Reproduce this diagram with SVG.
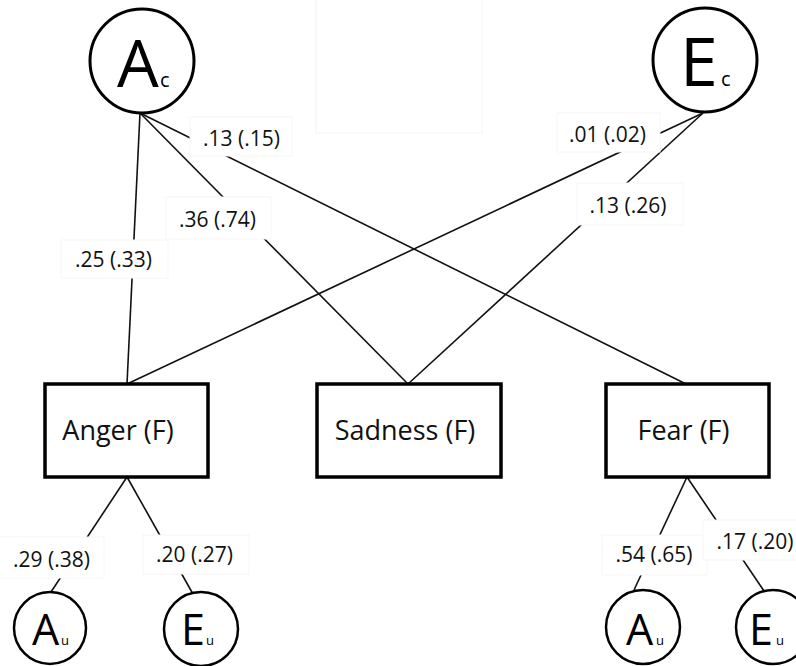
<svg xmlns="http://www.w3.org/2000/svg" width="796" height="666" viewBox="0 0 796 666">
<style>
.ln{stroke:#111;stroke-width:1.6;fill:none}
.lab rect{fill:#fff;stroke:#f6f6f6;stroke-width:1}
.lab text{font-family:"Open Sans","Liberation Sans",sans-serif;font-size:21px;fill:#111;text-anchor:middle}
.box rect{fill:#fff;stroke:#000;stroke-width:3.5}
.box text{font-family:"Open Sans","Liberation Sans",sans-serif;font-size:27px;fill:#111;text-anchor:middle}
.big circle{fill:#fff;stroke:#000;stroke-width:3}
.sm circle{fill:#fff;stroke:#000;stroke-width:2.5}
.lt{font-family:"Open Sans","Liberation Sans",sans-serif;fill:#000}
</style>
<rect x="316" y="-2" width="166" height="135" fill="#fff" stroke="#f6f6f6" stroke-width="1"/>
<g id="connectors">
<line class="ln" x1="140" y1="113" x2="127" y2="384"/>
<line class="ln" x1="140" y1="113" x2="408" y2="384"/>
<line class="ln" x1="140" y1="113" x2="686" y2="384"/>
<line class="ln" x1="703" y1="113" x2="127" y2="384"/>
<line class="ln" x1="703" y1="113" x2="408" y2="384"/>
<line class="ln" x1="127" y1="477" x2="51" y2="592"/>
<line class="ln" x1="127" y1="477" x2="193" y2="594"/>
<line class="ln" x1="687" y1="477" x2="634" y2="590"/>
<line class="ln" x1="687" y1="477" x2="764" y2="591"/>
</g>
<g id="labels">
<g class="lab"><rect x="190" y="117" width="102" height="39"/><text x="241.5" y="146">.13 (.15)</text></g>
<g class="lab"><rect x="557" y="113" width="103" height="39"/><text x="607.5" y="142">.01 (.02)</text></g>
<g class="lab"><rect x="166" y="197" width="105" height="42"/><text x="217.5" y="227">.36 (.74)</text></g>
<g class="lab"><rect x="61" y="240" width="107" height="38"/><text x="113.5" y="267">.25 (.33)</text></g>
<g class="lab"><rect x="577" y="183" width="106" height="42"/><text x="628" y="213">.13 (.26)</text></g>
<g class="lab"><rect x="-2" y="537" width="106" height="41"/><text x="51.5" y="567">.29 (.38)</text></g>
<g class="lab"><rect x="143" y="535" width="106" height="39"/><text x="194.5" y="562">.20 (.27)</text></g>
<g class="lab"><rect x="602" y="535" width="105" height="40"/><text x="654" y="562">.54 (.65)</text></g>
<g class="lab"><rect x="703" y="520" width="100" height="40"/><text x="755" y="549">.17 (.20)</text></g>
</g>
<g id="Ac" class="big"><circle cx="142" cy="61" r="52"/><text class="lt" x="117" y="87" font-size="66">A</text><text class="lt" x="160" y="87" font-size="20">c</text></g>
<g id="Ec" class="big"><circle cx="705" cy="60" r="52"/><text class="lt" x="680" y="86" font-size="68">E</text><text class="lt" x="721" y="86" font-size="20">c</text></g>
<g id="anger" class="box"><rect x="45" y="384" width="163" height="93"/><text x="118" y="440">Anger (F)</text></g>
<g id="sadness" class="box"><rect x="317" y="384" width="184" height="93"/><text x="405" y="440">Sadness (F)</text></g>
<g id="fear" class="box"><rect x="606" y="384" width="163" height="93"/><text x="683.5" y="440">Fear (F)</text></g>
<g id="Au1" class="sm"><circle cx="50" cy="628" r="36"/><text class="lt" x="32" y="645" font-size="43">A</text><text class="lt" x="61" y="645" font-size="13">u</text></g>
<g id="Eu1" class="sm"><circle cx="201" cy="629" r="37"/><text class="lt" x="181" y="645" font-size="43">E</text><text class="lt" x="206" y="645" font-size="13">u</text></g>
<g id="Au2" class="sm"><circle cx="643" cy="627" r="37"/><text class="lt" x="626" y="645" font-size="43">A</text><text class="lt" x="656" y="645" font-size="13">u</text></g>
<g id="Eu2" class="sm"><circle cx="773" cy="627" r="37"/><text class="lt" x="749" y="645" font-size="43">E</text><text class="lt" x="776" y="645" font-size="13">u</text></g>
</svg>
